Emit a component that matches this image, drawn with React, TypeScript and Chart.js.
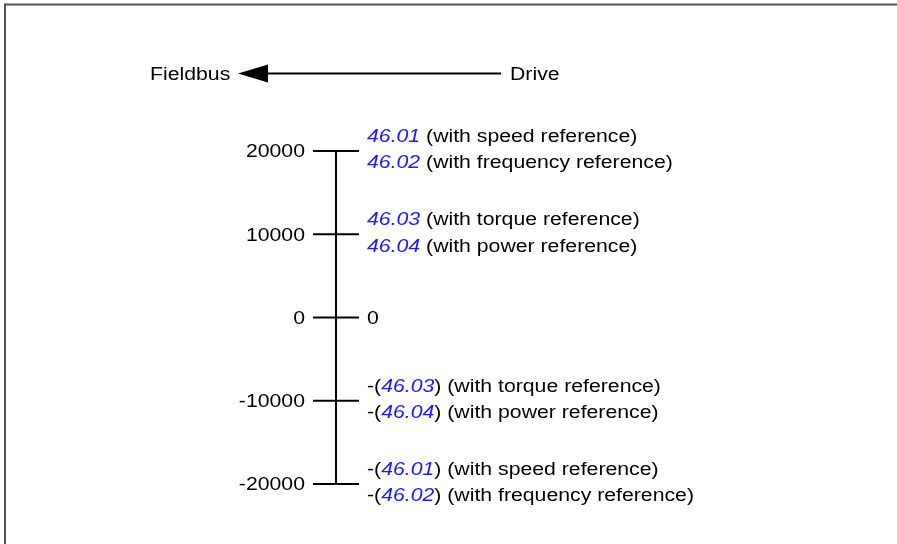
import React, { useEffect, useRef } from "react";
import { Chart, registerables } from "chart.js";

Chart.register(...registerables);

// ---- data ----
const tickValues = [20000, 10000, 0, -10000, -20000];
const tickLabels = ["20000", "10000", "0", "-10000", "-20000"];
const refCodes = ["46.01", "46.02", "46.03", "46.04"];
const refKinds = ["speed", "frequency", "torque", "power"];
const tickRefs: number[][] = [[0, 1], [2, 3], [], [2, 3], [0, 1]];
const headerLeft = "Fieldbus";
const headerRight = "Drive";

// ---- style ----
const FONT = '"Liberation Sans", Arial, sans-serif';
const FS = 18;
const SX = 1.18;
const BLUE = "#1a1aff";
const INK = "#000";

type Seg = { t: string; c: string; i?: boolean };

function drawRich(ctx: CanvasRenderingContext2D, x: number, yCenter: number, segs: Seg[], align: "left" | "right") {
  ctx.save();
  ctx.textBaseline = "alphabetic";
  ctx.textAlign = "left";
  let total = 0;
  const widths = segs.map((s) => {
    ctx.font = `${s.i ? "italic " : ""}${FS}px ${FONT}`;
    const w = ctx.measureText(s.t).width;
    total += w;
    return w;
  });
  ctx.translate(x, yCenter + FS * 0.358);
  ctx.scale(SX, 1);
  let cx = align === "right" ? -total : 0;
  segs.forEach((s, k) => {
    ctx.font = `${s.i ? "italic " : ""}${FS}px ${FONT}`;
    ctx.fillStyle = s.c;
    ctx.fillText(s.t, cx, 0);
    cx += widths[k];
  });
  ctx.restore();
}

const diagramPlugin = {
  id: "diagram",
  afterDatasetsDraw(chart: any) {
    const ctx: CanvasRenderingContext2D = chart.ctx;
    const xs = chart.scales.x;
    const ys = chart.scales.y;
    const ax = xs.getPixelForValue(0);

    // frame
    ctx.save();
    ctx.strokeStyle = "#555";
    ctx.lineWidth = 2;
    ctx.beginPath();
    ctx.moveTo(5, 544);
    ctx.lineTo(5, 4.5);
    ctx.lineTo(897, 4.5);
    ctx.stroke();
    ctx.restore();

    // header
    drawRich(ctx, 150, 73.5, [{ t: headerLeft, c: INK }], "left");
    drawRich(ctx, 510, 73.5, [{ t: headerRight, c: INK }], "left");
    ctx.save();
    ctx.strokeStyle = "#000";
    ctx.fillStyle = "#000";
    ctx.lineWidth = 2;
    ctx.beginPath();
    ctx.moveTo(266, 73.5);
    ctx.lineTo(501, 73.5);
    ctx.stroke();
    ctx.beginPath();
    ctx.moveTo(238, 73.5);
    ctx.lineTo(268, 64.5);
    ctx.lineTo(268, 82.5);
    ctx.closePath();
    ctx.fill();
    ctx.restore();

    // labels
    tickValues.forEach((v, k) => {
      const py = ys.getPixelForValue(v);
      drawRich(ctx, ax - 31, py, [{ t: tickLabels[k], c: INK }], "right");
      const refs = tickRefs[k];
      if (refs.length === 0) {
        drawRich(ctx, ax + 31, py, [{ t: tickLabels[k], c: INK }], "left");
        return;
      }
      const neg = v < 0;
      const offs = [-15.5, 11];
      refs.forEach((r, j) => {
        const segs: Seg[] = neg
          ? [
              { t: "-(", c: INK },
              { t: refCodes[r], c: BLUE, i: true },
              { t: ")", c: INK },
              { t: ` (with ${refKinds[r]} reference)`, c: INK },
            ]
          : [
              { t: refCodes[r], c: BLUE, i: true },
              { t: ` (with ${refKinds[r]} reference)`, c: INK },
            ];
        drawRich(ctx, ax + 31, py + offs[j], segs, "left");
      });
    });
  },
};

export default function App() {
  const ref = useRef<HTMLCanvasElement>(null);
  useEffect(() => {
    const canvas = ref.current!;
    const chart = new Chart(canvas, {
      type: "scatter",
      data: {
        datasets: [
          {
            type: "line",
            data: [
              { x: 0, y: tickValues[tickValues.length - 1] },
              { x: 0, y: tickValues[0] },
            ],
            borderColor: "#000",
            borderWidth: 2,
            pointRadius: 0,
            clip: false,
          } as any,
          {
            data: tickValues.map((v) => ({ x: 0, y: v })),
            pointStyle: "line",
            pointRadius: 23,
            borderColor: "#000",
            borderWidth: 2,
            clip: false,
          } as any,
        ],
      },
      options: {
        responsive: false,
        animation: false,
        events: [],
        layout: { autoPadding: false, padding: { top: 151, bottom: 60, left: 0, right: 0 } },
        plugins: { legend: { display: false }, tooltip: { enabled: false } },
        scales: {
          x: { type: "linear", display: false, min: -336, max: 561 },
          y: { type: "linear", display: false, min: -20000, max: 20000 },
        },
      },
      plugins: [diagramPlugin],
    });
    return () => chart.destroy();
  }, []);
  return (
    <div style={{ position: "fixed", left: 0, top: 0, width: 897, height: 544, background: "#fff" }}>
      <canvas ref={ref} width={897} height={544} style={{ display: "block" }} />
    </div>
  );
}
